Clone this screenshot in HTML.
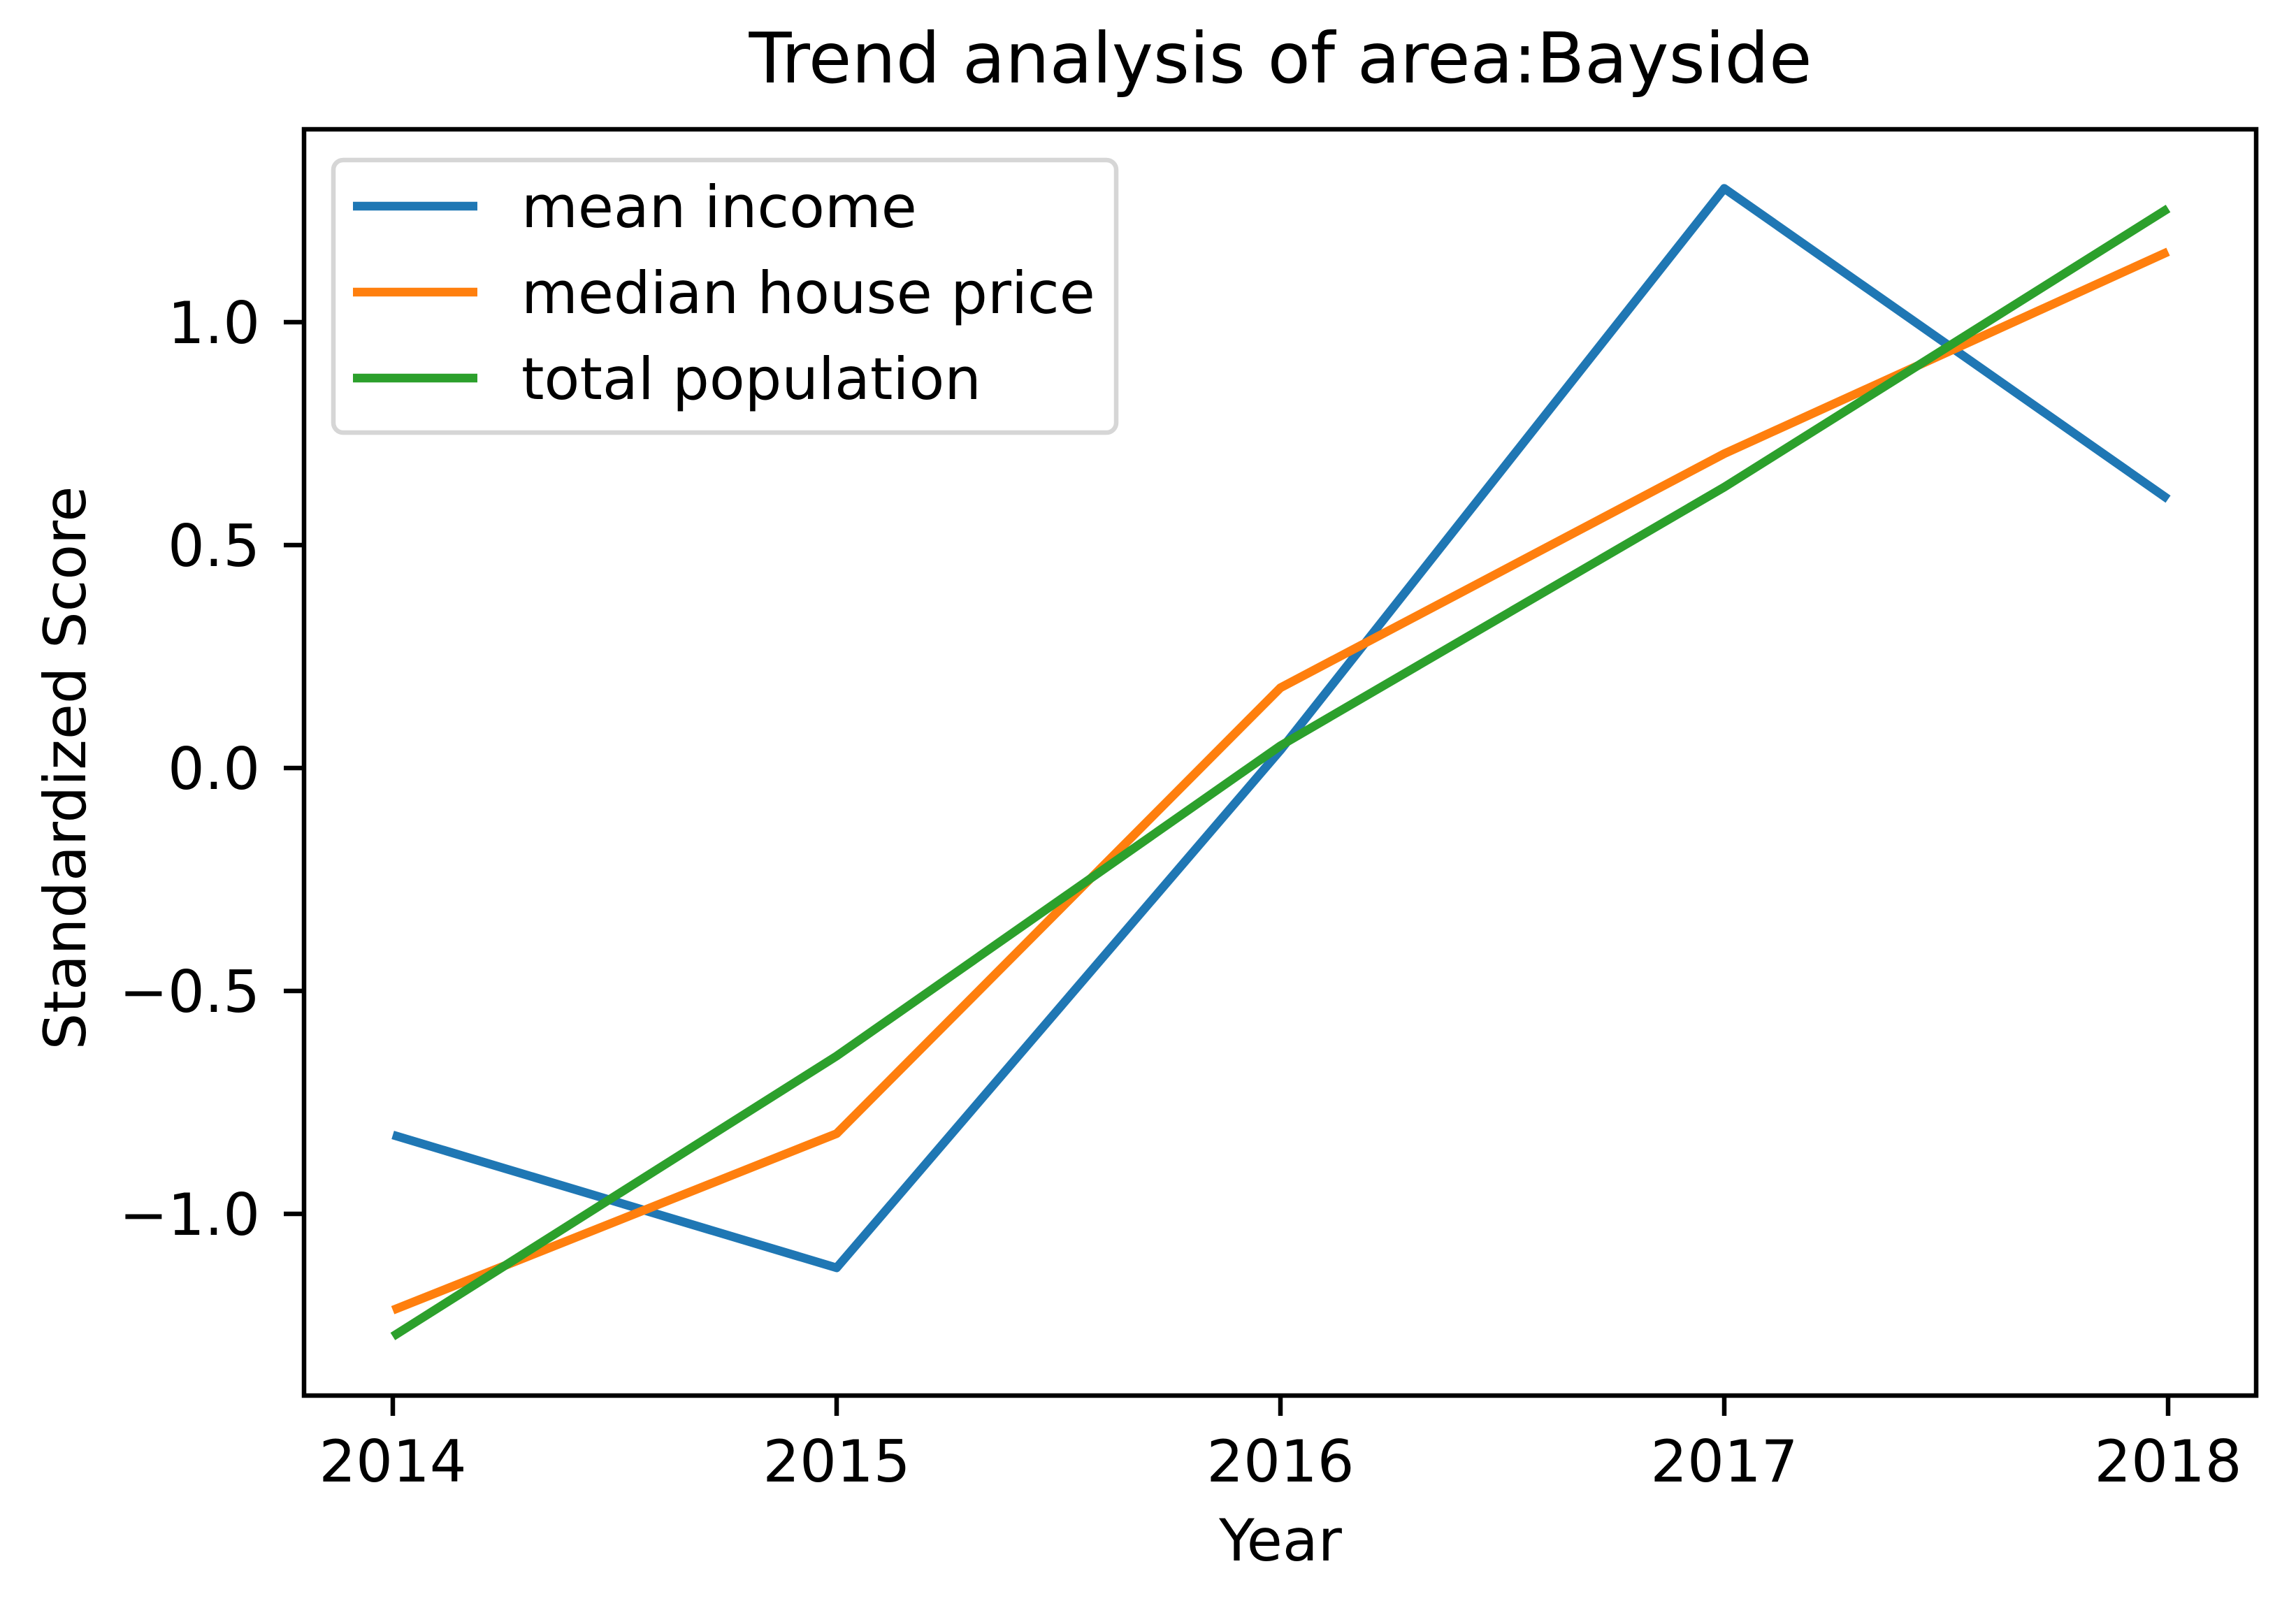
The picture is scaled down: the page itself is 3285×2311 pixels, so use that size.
<!DOCTYPE html>
<html><head><meta charset="utf-8"><style>
html,body{margin:0;padding:0;background:#fff}
svg{display:block}
text{font-family:"DejaVu Sans","Liberation Sans",sans-serif;fill:#000}
</style></head><body>
<svg id="chart" width="3285" height="2311" viewBox="0 0 3285 2311" xmlns="http://www.w3.org/2000/svg">
<rect width="3285" height="2311" fill="#fff"/>
<text x="1832" y="118" font-size="100" text-anchor="middle">Trend analysis of area:Bayside</text>
<g id="plot"></g>
<text x="1832" y="2233" font-size="83" text-anchor="middle">Year</text>
<text transform="translate(122,1099) rotate(-90)" font-size="83" text-anchor="middle">Standardized Score</text>
</svg>
<script>
const years = [2014, 2015, 2016, 2017, 2018];
const meanIncome = [-0.823, -1.121, 0.04, 1.30, 0.603];
const medianHousePrice = [-1.216, -0.82, 0.18, 0.705, 1.158];
const totalPopulation = [-1.275, -0.646, 0.05, 0.63, 1.255];
const yTicks = [-1.0, -0.5, 0.0, 0.5, 1.0];
const yTickLabels = ["\u22121.0", "\u22120.5", "0.0", "0.5", "1.0"];
const seriesNames = ["mean income", "median house price", "total population"];

const NS = "http://www.w3.org/2000/svg";
const L = 435, R = 3228, T = 185, B = 1997;
function xs(v){ return 562 + (v - 2014) * 635; }
function ys(v){ return 1099 - v * 638; }
const g = document.getElementById('plot');
function mk(tag, attrs, parent){ const e = document.createElementNS(NS, tag); for (const k in attrs) e.setAttribute(k, attrs[k]); (parent||g).appendChild(e); return e; }

const colors = ["#1f77b4", "#ff7f0e", "#2ca02c"];
const data = [meanIncome, medianHousePrice, totalPopulation];
data.forEach((s, i) => {
  const pts = s.map((v, j) => xs(years[j]) + "," + ys(v)).join(" ");
  const pl = mk('polyline', {points: pts, fill: 'none', stroke: colors[i], 'stroke-width': 12.5, 'stroke-linejoin': 'round'});
  
  
});

const frame = mk('rect', {x: L, y: T, width: R - L, height: B - T, fill: 'none', stroke: '#000', 'stroke-width': 6.5});



years.forEach(y => {
  const t = mk('line', {x1: xs(y), x2: xs(y), y1: B, y2: B + 29, stroke: '#000', 'stroke-width': 6.5});
  
  
  const lb = mk('text', {x: xs(y), y: 2120, 'font-size': 83, 'text-anchor': 'middle'});
  lb.textContent = String(y);
  
  
});
yTicks.forEach((v, i) => {
  const t = mk('line', {x1: L - 29, x2: L, y1: ys(v), y2: ys(v), stroke: '#000', 'stroke-width': 6.5});
  
  
  const lb = mk('text', {x: 372, y: ys(v) + 30, 'font-size': 83, 'text-anchor': 'end'});
  lb.textContent = yTickLabels[i];
  
  
});

const leg = mk('g', {});


mk('rect', {x: 477, y: 229, width: 1120, height: 390, rx: 14, fill: 'rgba(255,255,255,0.8)', stroke: '#d6d6d6', 'stroke-width': 6.5}, leg);
seriesNames.forEach((n, i) => {
  const cy = 295 + i * 123;
  const ln = mk('line', {x1: 505, x2: 683, y1: cy, y2: cy, stroke: colors[i], 'stroke-width': 12.5}, leg);
  
  
  const tx = mk('text', {x: 746, y: cy + 30, 'font-size': 83}, leg);
  tx.textContent = n;
  
  
});
</script>
</body></html>
